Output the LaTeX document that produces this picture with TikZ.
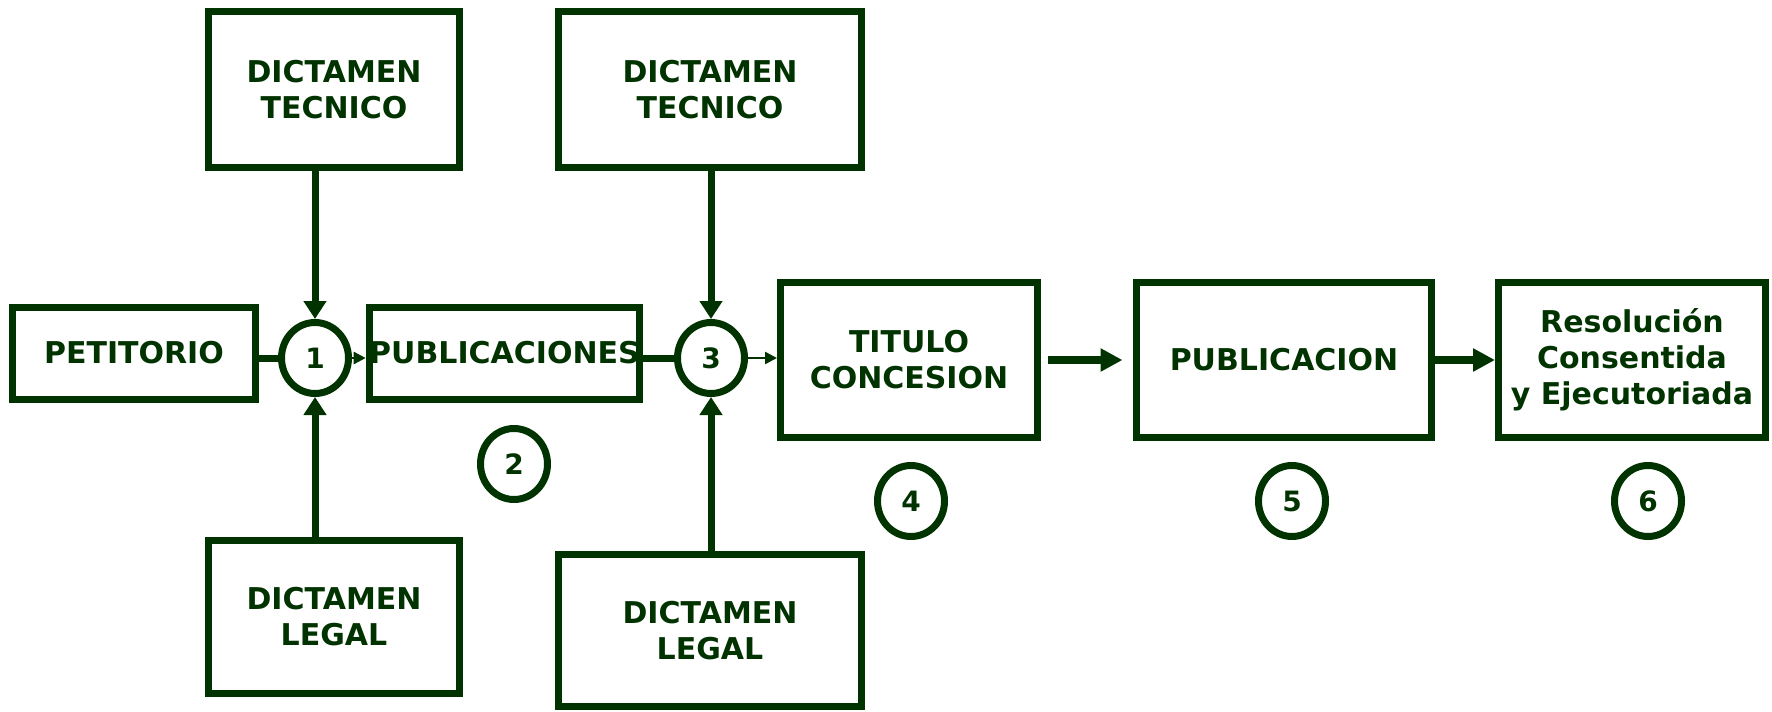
\documentclass[tikz,border=0pt]{standalone}
\usepackage{fontspec}
\setmainfont{DejaVu Sans}
\usetikzlibrary{arrows.meta,shapes.geometric}
\definecolor{dg}{RGB}{0,51,0}
\begin{document}
\begin{tikzpicture}[x=1pt,y=-1pt,
  box/.style={draw=dg,line width=7pt,fill=white,inner sep=0pt,align=center,text=dg,
    font=\fontsize{30}{36}\selectfont\bfseries},
  num/.style={draw=dg,ellipse,line width=7pt,fill=white,inner sep=0pt,
    minimum width=67pt,minimum height=71pt,text=dg,font=\fontsize{28}{32}\selectfont\bfseries},
  thickconn/.style={draw=dg,line width=7pt},
  vertarrow/.style={draw=dg,line width=7pt,-{Triangle[width=22pt,length=18pt]}},
  thinarrow/.style={draw=dg,line width=2.5pt,-{Triangle[width=12pt,length=12pt]}},
  bigarrow/.style={draw=dg,line width=8pt,-{Triangle[width=22pt,length=22pt]}}
]
\useasboundingbox[fill=white] (0,0) rectangle (1772,712);

\node[box,minimum width=251pt,minimum height=156pt] (DT1) at (334,89.5) {DICTAMEN\\TECNICO};
\node[box,minimum width=303pt,minimum height=156pt] (DT2) at (710,89.5) {DICTAMEN\\TECNICO};
\node[box,minimum width=243pt,minimum height=92pt] (PET) at (134,353) {PETITORIO};
\node[box,minimum width=266pt,minimum height=92pt] (PUBS) at (504.5,353) {PUBLICACIONES};
\node[box,minimum width=257pt,minimum height=155pt] (TIT) at (909,360) {TITULO\\CONCESION};
\node[box,minimum width=295pt,minimum height=155pt] (PUB) at (1284,360) {PUBLICACION};
\node[box,minimum width=267pt,minimum height=155pt] (RES) at (1632,360) {Resolución\\Consentida\\y Ejecutoriada};
\node[box,minimum width=251pt,minimum height=153pt] (DL1) at (334,617) {DICTAMEN\\LEGAL};
\node[box,minimum width=303pt,minimum height=152pt] (DL2) at (710,630.5) {DICTAMEN\\LEGAL};

\node[num] (c1) at (315,358) {1};
\node[num] (c3) at (711,358) {3};
\node[num] (c2) at (514,464) {2};
\node[num] (c4) at (911,501) {4};
\node[num] (c5) at (1292,501) {5};
\node[num] (c6) at (1648,501) {6};

\draw[vertarrow] (c1 |- DT1.south) -- (c1.north);
\draw[vertarrow] (c1 |- DL1.north) -- (c1.south);
\draw[vertarrow] (c3 |- DT2.south) -- (c3.north);
\draw[vertarrow] (c3 |- DL2.north) -- (c3.south);

\draw[thickconn] ([xshift=-6pt]PET.east |- c1) -- (c1.west);
\draw[thinarrow] (c1.east) -- (PUBS.west |- c1);
\draw[thickconn] (PUBS.east |- c3) -- (c3.west);
\draw[thinarrow] (c3.east) -- (TIT.west |- c3);
\draw[bigarrow] ([xshift=6.5pt]TIT.east) -- ([xshift=-10.5pt]PUB.west);
\draw[bigarrow] (PUB.east) -- (RES.west);
\end{tikzpicture}
\end{document}
